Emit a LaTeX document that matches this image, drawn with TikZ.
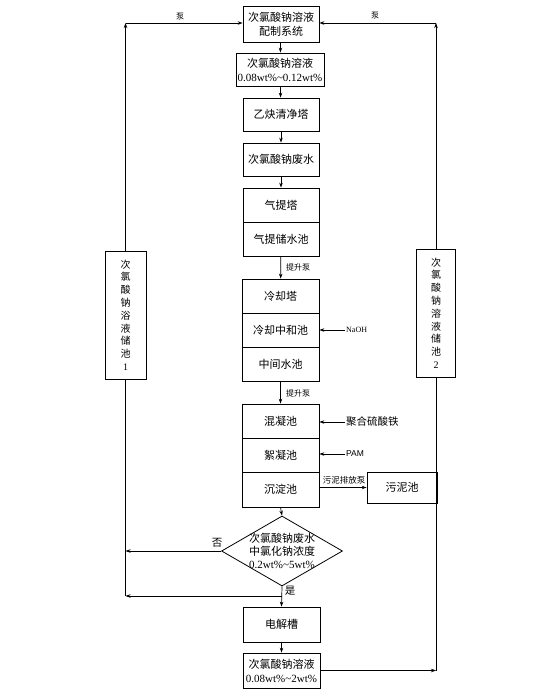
\documentclass[tikz,border=0pt]{standalone}
\usepackage{fontspec}
\setmainfont{Liberation Serif}
\newfontfamily\cjk{Noto Sans CJK SC}
\newfontfamily\lsans{Liberation Sans}
\usetikzlibrary{arrows.meta,shapes.geometric}
\begin{document}
\begin{tikzpicture}[x=1pt,y=-1pt,
  box/.style={draw, line width=0.8pt, inner sep=0pt, align=center, font=\fontsize{11}{14}\selectfont},
  pool/.style={draw, line width=0.8pt, inner sep=0pt, align=center, minimum width=40pt, minimum height=128pt, font=\fontsize{10}{12.8}\selectfont},
  arr/.style={-{Stealth[length=5pt,width=3.5pt]}, line width=0.7pt},
  ln/.style={line width=0.7pt},
  small/.style={font=\cjk\fontsize{8}{9}\selectfont, inner sep=1pt},
  lbl/.style={font=\cjk\fontsize{10.5}{12}\selectfont, inner sep=1pt}]
\useasboundingbox[fill=white] (0,0) rectangle (558,698);

% main column
\node[box, minimum width=76pt, minimum height=36pt] (b1) at (281,24) {{\cjk 次氯酸钠溶液}\\{\cjk 配制系统}};
\node[box, minimum width=88pt, minimum height=33pt] (b2) at (280,69.5) {{\cjk 次氯酸钠溶液}\\0.08wt\%\textasciitilde 0.12wt\%};
\node[box, minimum width=76pt, minimum height=33pt] (b3) at (281,114.5) {\cjk 乙炔清净塔};
\node[box, minimum width=76pt, minimum height=33pt] (b4) at (281,159.5) {\cjk 次氯酸钠废水};
\node[box, minimum width=76pt, minimum height=34pt] (b5a) at (281,205) {\cjk 气提塔};
\node[box, minimum width=76pt, minimum height=34pt] (b5b) at (281,239) {\cjk 气提储水池};
\node[box, minimum width=77pt, minimum height=34pt] (b6a) at (280.5,296) {\cjk 冷却塔};
\node[box, minimum width=77pt, minimum height=34pt] (b6b) at (280.5,330) {\cjk 冷却中和池};
\node[box, minimum width=77pt, minimum height=34pt] (b6c) at (280.5,364) {\cjk 中间水池};
\node[box, minimum width=77pt, minimum height=34pt] (b7a) at (280.5,421) {\cjk 混凝池};
\node[box, minimum width=77pt, minimum height=34pt] (b7b) at (280.5,455) {\cjk 絮凝池};
\node[box, minimum width=77pt, minimum height=35pt] (b7c) at (280.5,489.5) {\cjk 沉淀池};
\node[box, minimum width=70pt, minimum height=31pt] (sl) at (402,487.5) {\cjk 污泥池};

\node[draw, diamond, line width=0.8pt, minimum width=121pt, minimum height=70pt, inner sep=0pt] (d) at (282,551) {};
\node[align=center, inner sep=0pt, font=\fontsize{11}{13}\selectfont] (dt) at (282,551) {{\cjk 次氯酸钠废水}\\{\cjk 中氯化钠浓度}\\0.2wt\%\textasciitilde 5wt\%};

\node[box, minimum width=77pt, minimum height=35pt] (el) at (281.5,624.5) {\cjk 电解槽};
\node[box, minimum width=77pt, minimum height=35pt] (last) at (281.5,670.5) {{\cjk 次氯酸钠溶液}\\0.08wt\%\textasciitilde 2wt\%};

% storage pools
\node[pool, minimum width=41pt] (p1) at (125.5,315) {{\cjk 次}\\{\cjk 氯}\\{\cjk 酸}\\{\cjk 钠}\\{\cjk 浴}\\{\cjk 液}\\{\cjk 储}\\{\cjk 池}\\1};
\node[pool, minimum width=39pt] (p2) at (436,313) {{\cjk 次}\\{\cjk 氯}\\{\cjk 酸}\\{\cjk 钠}\\{\cjk 溶}\\{\cjk 液}\\{\cjk 储}\\{\cjk 池}\\2};

% coordinates
\coordinate (lc) at (125.5,23);
\coordinate (rc) at (436,23);
\coordinate (lb) at (125.5,596);
\coordinate (j) at (282,596);

% main flow arrows
\draw[arr] (b1) -- (b2);
\draw[arr] (b2) -- (b3);
\draw[arr] (b3) -- (b4);
\draw[arr] (b4) -- (b5a);
\draw[arr] (b5b) -- (b6a);
\draw[arr] (b6c) -- (b7a);
\draw[arr] (b7c.south) -- (d.north);
\draw[arr] (d.south) -- (el.north);
\draw[arr] (el) -- (last);

\node[small, anchor=west] (lift1) at (285,267) {提升泵};
\node[small, anchor=west] (lift2) at (285,393) {提升泵};

% side inputs
\node[anchor=west, inner sep=1pt, font=\fontsize{8}{9}\selectfont] (naoh) at (345,330) {NaOH};
\draw[arr] (naoh.west) -- (naoh.west -| b6b.east);
\node[lbl, anchor=west] (pfs) at (345,422) {聚合硫酸铁};
\draw[arr] (pfs.west) -- (pfs.west -| b7a.east);
\node[anchor=west, inner sep=1pt, font=\lsans\fontsize{8.5}{9}\selectfont] (pam) at (345,454) {PAM};
\draw[arr] (pam.west) -- (pam.west -| b7b.east);
\node[small, font=\cjk\fontsize{8.5}{9}\selectfont] (slp) at (344,480) {污泥排放泵};
\draw[arr] (b7c.east |- sl.west) -- (sl.west);

% decision branches
\node[lbl] (no) at (217,543) {否};
\node[lbl] (yes) at (290,591) {是};
\draw[arr] (d.west) -- (d.west -| lb);
\draw[arr] (j) -- (lb);

% left loop
\draw[ln] (p1.south) -- (lb);
\draw[arr] (p1.north) -- (lc);
\draw[arr] (lc) -- (lc -| b1.west);
\node[small] (pump1) at (180,17) {泵};

% right loop
\draw[arr] (last.east) -- (last.east -| p2.south);
\draw[ln] (last.east -| p2.south) -- (p2.south);
\draw[arr] (p2.north) -- (rc);
\draw[arr] (rc) -- (rc -| b1.east);
\node[small] (pump2) at (375,16) {泵};
\end{tikzpicture}
\end{document}
